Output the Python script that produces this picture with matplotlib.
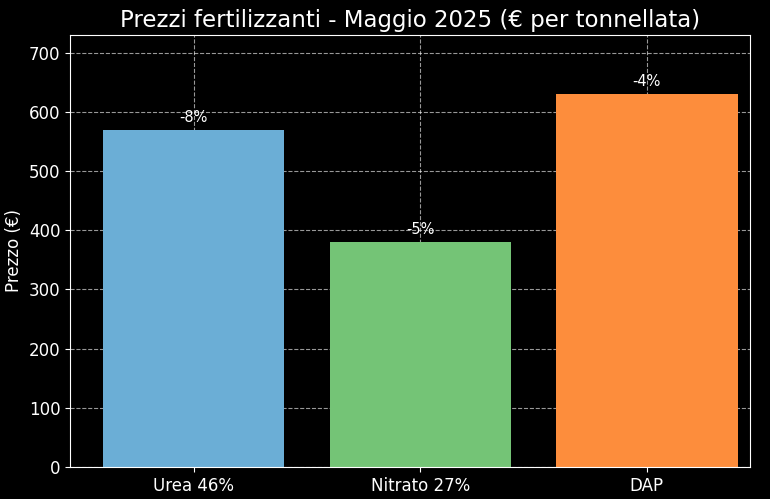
import matplotlib
matplotlib.use("Agg")
import matplotlib.pyplot as plt

categories = ["Urea 46%", "Nitrato 27%", "DAP"]
prices = [570, 380, 630]
changes = ["-8%", "-5%", "-4%"]
colors = ["#6baed6", "#74c476", "#fd8d3c"]

plt.style.use("dark_background")
fig = plt.figure(figsize=(7.7, 4.99), dpi=100)
ax = fig.add_axes([70/770, 32/499, 680/770, 432/499])
x = range(len(categories))
bars = ax.bar(x, prices, width=0.8, color=colors, zorder=2)
for b, c in zip(bars, changes):
    ax.text(b.get_x() + b.get_width()/2, b.get_height() + 8, c, ha="center", va="bottom", fontsize=10.5, color="white")
ax.set_xticks(list(x))
ax.set_xticklabels(categories, fontsize=12)
ax.set_xlim(-0.545, 2.455)
ax.set_ylim(0, 730)
ax.set_ylabel("Prezzo (€)", fontsize=12)
ax.tick_params(labelsize=12)
ax.grid(True, linestyle="--", color="white", alpha=0.6, linewidth=0.8, zorder=0)
ax.set_axisbelow(True)
ax.set_title("Prezzi fertilizzanti - Maggio 2025 (€ per tonnellata)", fontsize=16.5)
fig.savefig("out.png", dpi=100)
